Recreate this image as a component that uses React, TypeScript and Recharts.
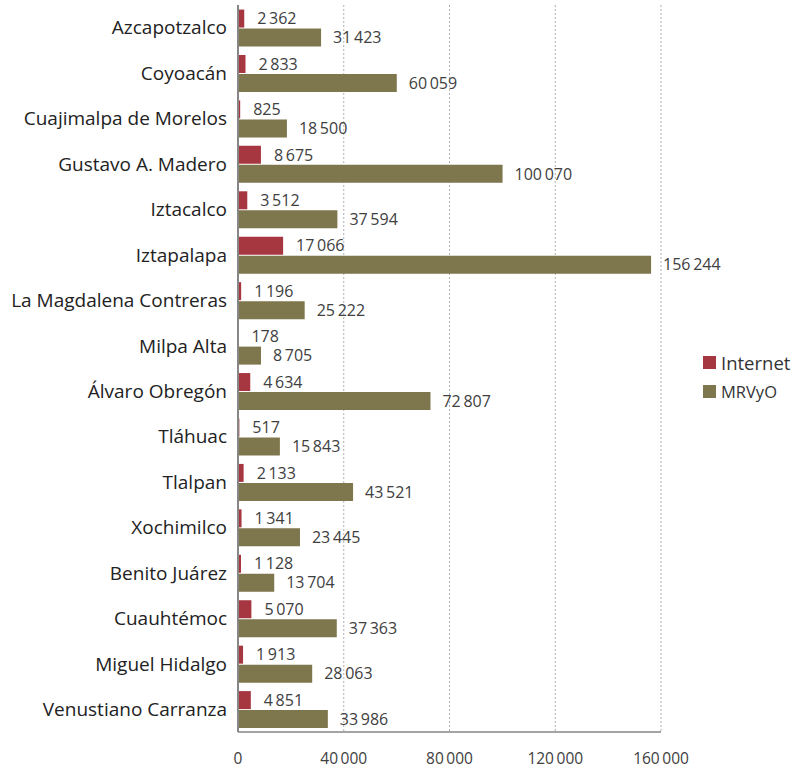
import React from 'react';
import { BarChart, Bar, XAxis, YAxis, CartesianGrid, Legend, LabelList } from 'recharts';

const categories = [
    'Azcapotzalco', 'Coyoacán', 'Cuajimalpa de Morelos', 'Gustavo A. Madero ', 'Iztacalco', 'Iztapalapa',
    'La Magdalena Contreras', 'Milpa Alta', 'Álvaro Obregón', 'Tláhuac', 'Tlalpan', 'Xochimilco',
    'Benito Juárez', 'Cuauhtémoc', 'Miguel Hidalgo', 'Venustiano Carranza',
];
const internet = [2362, 2833, 825, 8675, 3512, 17066, 1196, 178, 4634, 517, 2133, 1341, 1128, 5070, 1913, 4851];
const mrvyo = [31423, 60059, 18500, 100070, 37594, 156244, 25222, 8705, 72807, 15843, 43521, 23445, 13704, 37363, 28063, 33986];
const xTicks = [0, 40000, 80000, 120000, 160000];

const RED = '#A63741';
const OLIVE = '#7E764D';
const FONT = '"Open Sans", sans-serif';

const data = categories.map((name, i) => ({ name, internet: internet[i], mrvyo: mrvyo[i] }));

// thousands separated by a space, like the original
const fmt = (v: number) => String(v).replace(/\B(?=(\d{3})+(?!\d))/g, '\u2009');

const LegendBox = () => (
    <div style={{ fontFamily: FONT, fontSize: 18.5, color: '#333' }}>
        <div style={{ display: 'flex', alignItems: 'center', marginBottom: 5 }}>
            <span style={{ width: 13, height: 13, background: RED, marginRight: 5 }} />Internet
        </div>
        <div style={{ display: 'flex', alignItems: 'center', fontSize: 16.5 }}>
            <span style={{ width: 13, height: 13, background: OLIVE, marginRight: 5 }} />MRVyO
        </div>
    </div>
);

export default function App() {
    return (
        <div style={{ position: 'absolute', left: 0, top: 0, background: '#fff' }}>
            <BarChart
                width={798}
                height={769}
                data={data}
                layout="vertical"
                margin={{ top: 5, right: 42, left: 0, bottom: 0 }}
                barCategoryGap="10%"
                barGap={1}
            >
                <CartesianGrid horizontal={false} stroke="#b0b0b0" strokeDasharray="2 2" />
                <XAxis
                    type="number"
                    domain={[0, 160000]}
                    ticks={xTicks}
                    tickFormatter={fmt}
                    tickLine={false}
                    axisLine={{ stroke: '#868686', strokeWidth: 1.5 }}
                    tickMargin={15}
                    height={37}
                    tick={{ fontFamily: FONT, fontSize: 15.5, fill: '#404040' }}
                />
                <YAxis
                    type="category"
                    dataKey="name"
                    width={238}
                    tickLine={false}
                    axisLine={{ stroke: '#868686', strokeWidth: 2 }}
                    tickMargin={5}
                    interval={0}
                    tick={{ fontFamily: FONT, fontSize: 19, fill: '#222' }}
                />
                <Legend
                    layout="vertical"
                    align="right"
                    verticalAlign="middle"
                    content={<LegendBox />}
                    wrapperStyle={{ left: 703, top: 350, width: 95 }}
                />
                <Bar dataKey="internet" name="Internet" fill={RED} isAnimationActive={false}>
                    <LabelList dataKey="internet" position="right" offset={13} formatter={fmt}
                        style={{ fontFamily: FONT, fontSize: 16, fill: '#404040' }} />
                </Bar>
                <Bar dataKey="mrvyo" name="MRVyO" fill={OLIVE} isAnimationActive={false}>
                    <LabelList dataKey="mrvyo" position="right" offset={12} formatter={fmt}
                        style={{ fontFamily: FONT, fontSize: 16, fill: '#404040' }} />
                </Bar>
            </BarChart>
        </div>
    );
}
